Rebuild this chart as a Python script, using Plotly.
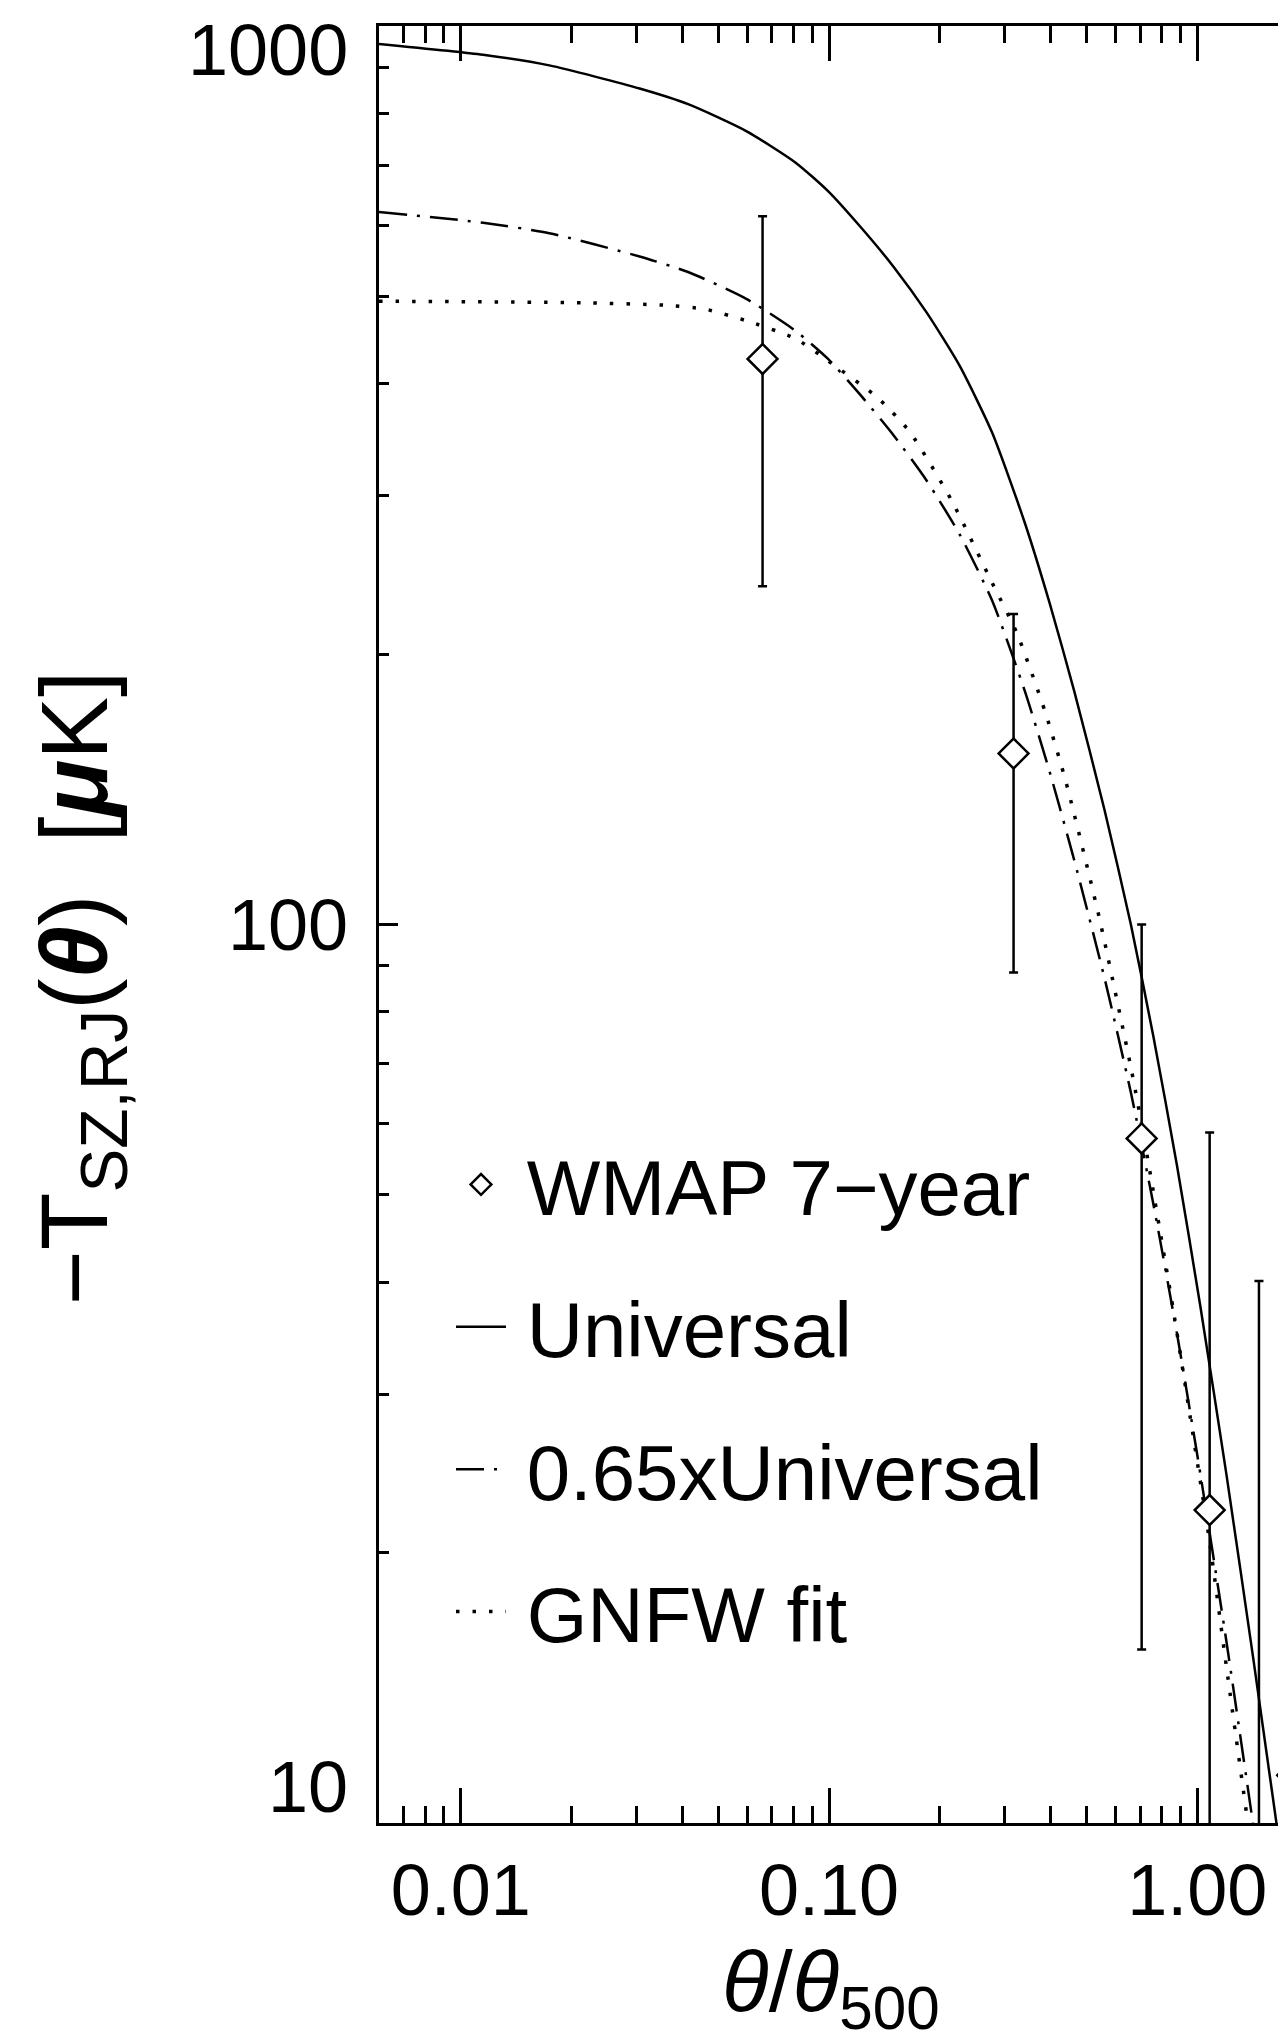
import math
import plotly.graph_objects as go

# ---------------- data ----------------
univ_x = [0.006, 0.0115, 0.0174, 0.0306, 0.0416, 0.0596, 0.081, 0.0994, 0.122, 0.150,
          0.184, 0.226, 0.277, 0.340, 0.397, 0.463, 0.560, 0.660, 0.760, 0.880,
          1.020, 1.200, 1.420, 1.675]
univ_y = [955, 929, 904, 852, 818, 764, 705, 655, 597, 539,
          480, 419, 353, 280, 228, 182, 134, 100, 75, 54,
          37.5, 24.4, 15.2, 9.4]

scaled_x = univ_x
scaled_y = [621, 604, 588, 554, 532, 497, 458, 426, 388, 350,
            312, 272, 229.5, 182, 148, 118, 87.1, 65, 48.8, 35.1,
            24.4, 15.9, 9.9, 6.1]

gnfw_x = [0.006, 0.0213, 0.0356, 0.0461, 0.0595, 0.081, 0.0993, 0.1353, 0.166, 0.2146,
          0.2773, 0.3236, 0.387, 0.440, 0.541, 0.664, 0.716, 0.859, 0.950, 1.081,
          1.200, 1.400]
gnfw_y = [494, 492, 489, 484, 470, 449, 424, 386, 353, 297,
          240, 211, 172, 144, 102, 68.5, 58, 37.4, 28.8, 20.5,
          14.9, 9.4]

wmap_x = [0.066, 0.317, 0.706, 1.08, 1.47, 1.81]
wmap_y = [426, 155, 57.8, 22.3, 4.0, 11.3]
wmap_err = [188, 66.6, 42.2, 36.4, 36.1, 27.2]

x_ticks = [0.01, 0.1, 1.0]
x_ticktext = ["0.01", "0.10", "1.00"]
y_ticks = [10, 100, 1000]
y_ticktext = ["10", "100", "1000"]
x_range = [0.006, 1.83]
y_range = [10, 1000]

FONT = "Liberation Sans, Arial, sans-serif"
BLACK = "black"
SP = "\u2009"

fig = go.Figure()

fig.add_trace(go.Scatter(
    x=univ_x, y=univ_y, mode="lines", name=SP + "Universal",
    line=dict(color=BLACK, width=2.5, shape="spline", smoothing=0.6),
    legendgroup="b", legendrank=2))
fig.add_trace(go.Scatter(
    x=scaled_x, y=scaled_y, mode="lines", name=SP + "0.65xUniversal",
    line=dict(color=BLACK, width=2.5, dash="28px,10px,3px,10px",
              shape="spline", smoothing=0.6),
    legendgroup="c", legendrank=3))
fig.add_trace(go.Scatter(
    x=gnfw_x, y=gnfw_y, mode="lines", name=SP + "GNFW fit",
    line=dict(color=BLACK, width=3.5, dash="3.5px,13px",
              shape="spline", smoothing=0.6),
    legendgroup="d", legendrank=4))
fig.add_trace(go.Scatter(
    x=wmap_x, y=wmap_y, mode="markers", name=SP + "WMAP 7\u2212year",
    marker=dict(symbol="diamond", size=23, color="white",
                line=dict(color=BLACK, width=2.5)),
    error_y=dict(type="data", array=wmap_err, visible=True,
                 color=BLACK, thickness=2.5, width=4.5),
    legendgroup="a", legendrank=1))

minor_vals = [k * 10 ** e for e in range(-3, 1) for k in range(2, 10)]
minor_vals_y = [k * 10 ** e for e in range(1, 3) for k in range(2, 10)]

fig.update_xaxes(
    type="log", range=[math.log10(x_range[0]), math.log10(x_range[1])],
    tickmode="array", tickvals=x_ticks, ticktext=x_ticktext,
    ticks="inside", ticklen=35, tickwidth=3, tickcolor=BLACK,
    minor=dict(tickmode="array", tickvals=minor_vals, ticks="inside",
               ticklen=17, tickwidth=3, tickcolor=BLACK, showgrid=False),
    showline=True, linewidth=3, linecolor=BLACK, mirror="allticks",
    showgrid=False, zeroline=False,
    tickfont=dict(family=FONT, size=72, color=BLACK),
    ticklabelstandoff=3,
)
fig.update_yaxes(
    type="log", range=[math.log10(y_range[0]), math.log10(y_range[1])],
    tickmode="array", tickvals=y_ticks, ticktext=y_ticktext,
    ticks="inside", ticklen=19, tickwidth=3, tickcolor=BLACK,
    minor=dict(tickmode="array", tickvals=minor_vals_y, ticks="inside",
               ticklen=10, tickwidth=3, tickcolor=BLACK, showgrid=False),
    showline=True, linewidth=3, linecolor=BLACK, mirror=False,
    showgrid=False, zeroline=False, showticklabels=False,
)

annotations = []
anchors = ["bottom", "middle", "top"]
shifts = [-6, 0, 18]
for v, t, a, s in zip(y_ticks, y_ticktext, anchors, shifts):
    annotations.append(dict(
        x=0, xref="paper", xanchor="right", xshift=-29,
        y=math.log10(v), yref="y", yanchor=a, yshift=s,
        text=t, showarrow=False,
        font=dict(family=FONT, size=72, color=BLACK)))

annotations.append(dict(
    x=0.494, xref="paper", y=-0.0915, yref="paper",
    xanchor="center", yanchor="middle", showarrow=False,
    text="<i>\u03b8</i>/<i>\u03b8</i><sub>500</sub>",
    font=dict(family=FONT, size=86, color=BLACK)))
annotations.append(dict(
    x=-0.3246, xref="paper", y=0.4647, yref="paper",
    xanchor="center", yanchor="middle", showarrow=False, textangle=-90,
    text="\u2212T<sub>SZ,RJ</sub>(<b><i>\u03b8</i></b>)\u00a0\u00a0[<b><i>\u03bc</i></b>K]",
    font=dict(family=FONT, size=94, color=BLACK)))

fig.update_layout(
    width=1286, height=2039,
    margin=dict(l=371, r=0, t=18, b=224, pad=0),
    paper_bgcolor="white", plot_bgcolor="white",
    annotations=annotations,
    showlegend=True,
    legend=dict(
        x=0.0787, y=0.3872, xanchor="left", yanchor="top",
        bgcolor="rgba(0,0,0,0)", borderwidth=0,
        font=dict(family=FONT, size=78, color=BLACK),
        itemwidth=50, tracegroupgap=38, traceorder="grouped",
    ),
)

fig.write_html("out.html")
